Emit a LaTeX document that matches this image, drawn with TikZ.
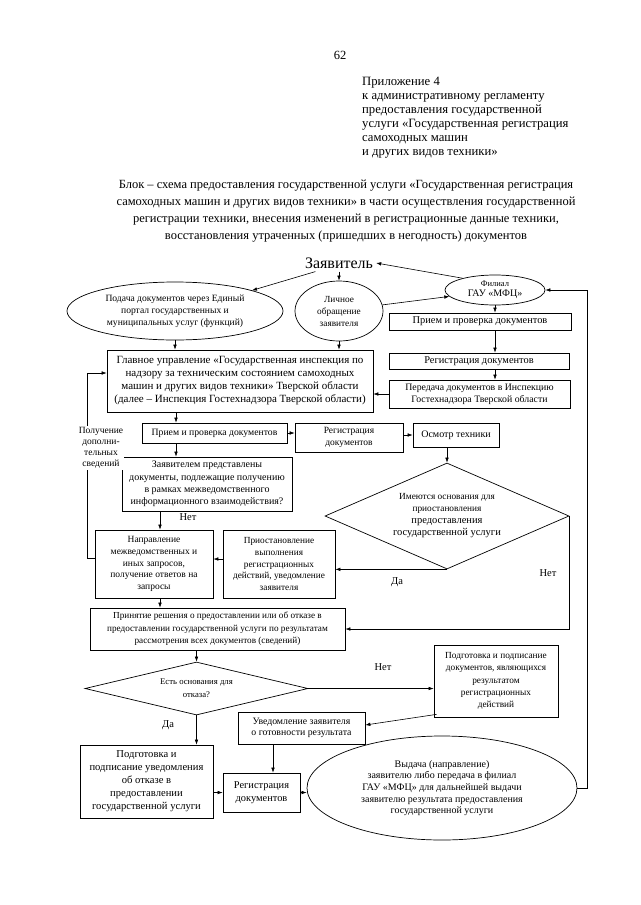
\documentclass[tikz,border=0pt]{standalone}
\usepackage{fontspec}
\setmainfont{Liberation Serif}
\usetikzlibrary{arrows.meta,shapes.geometric,calc}
\begin{document}
\begin{tikzpicture}[x=1pt,y=-1pt,
  every node/.style={inner sep=0pt, align=center},
  bx/.style={draw, line width=0.7pt, rectangle},
  el/.style={draw, line width=0.7pt, ellipse},
  dm/.style={draw, line width=0.7pt, diamond},
  arr/.style={line width=0.6pt, -{Latex[length=5pt,width=3.6pt]}},
  ln/.style={line width=0.6pt},
  lbl/.style={font=\fontsize{10.5}{12}\selectfont}
]
\fill[white] (0,0) rectangle (640,905);
\useasboundingbox (0,0) rectangle (640,905);

% header
\node[font=\fontsize{12.5}{14}\selectfont] (pg) at (340,55) {62};
\node[anchor=west, align=left, font=\fontsize{12.7}{14}\selectfont] (annex) at (362,118)
 {Приложение 4\\к административному регламенту\\предоставления государственной\\услуги «Государственная регистрация\\самоходных машин\\и других видов техники»};
\node[font=\fontsize{12.5}{17}\selectfont] (title) at (346,211.5)
 {Блок – схема предоставления государственной услуги «Государственная регистрация\\самоходных машин и других видов техники» в части осуществления государственной\\регистрации техники, внесения изменений в регистрационные данные техники,\\восстановления утраченных (пришедших в негодность) документов};

% top
\node[font=\fontsize{16}{18}\selectfont, inner sep=3pt] (zayav) at (339,263) {Заявитель};
\node[el, minimum width=216pt, minimum height=58pt, font=\fontsize{9.6}{12}\selectfont] (podacha) at (175,311)
 {Подача документов через Единый\\портал государственных и\\муниципальных услуг (функций)};
\node[el, minimum width=88pt, minimum height=60pt, font=\fontsize{9.3}{12}\selectfont] (lichnoe) at (339,311)
 {Личное\\обращение\\заявителя};
\node[el, minimum width=100pt, minimum height=30pt, font=\fontsize{10}{10.5}\selectfont] (filial) at (495,290)
 {\fontsize{8.5}{10}\selectfont Филиал\\\fontsize{10}{10}\selectfont ГАУ «МФЦ»};

% right column
\node[bx, minimum width=182pt, minimum height=17pt, font=\fontsize{10.4}{12}\selectfont] (r1) at (480,321.5) {Прием и проверка документов};
\node[bx, minimum width=180pt, minimum height=16pt, font=\fontsize{10.4}{12}\selectfont] (r2) at (479,361) {Регистрация документов};
\node[bx, minimum width=181pt, minimum height=28pt, font=\fontsize{9.8}{12}\selectfont] (r3) at (479.5,394)
 {Передача документов в Инспекцию\\Гостехнадзора Тверской области};

% main
\node[bx, minimum width=266pt, minimum height=62pt, font=\fontsize{11}{13}\selectfont] (main) at (240,381)
 {Главное управление «Государственная инспекция по\\надзору за техническим состоянием самоходных\\машин и других видов техники» Тверской области\\(далее – Инспекция Гостехнадзора Тверской области)};

\node[bx, minimum width=145pt, minimum height=20pt, font=\fontsize{9.7}{12}\selectfont] (priem2) at (214.5,433) {Прием и проверка документов};
\node[bx, minimum width=108pt, minimum height=29pt, font=\fontsize{9.5}{12.5}\selectfont] (reg2) at (349,437.5) {Регистрация\\документов};
\node[bx, minimum width=86pt, minimum height=24pt, font=\fontsize{10}{12}\selectfont] (osmotr) at (456,435) {Осмотр техники};

\node[bx, minimum width=170pt, minimum height=54pt, font=\fontsize{10}{12.2}\selectfont] (zayavlen) at (207,484)
 {Заявителем представлены\\документы, подлежащие получению\\в рамках межведомственного\\информационного взаимодействия?};

\node[dm, minimum width=244pt, minimum height=106pt, aspect=2.3, font=\fontsize{10.5}{12}\selectfont] (d1) at (447,516)
 {\fontsize{9.3}{12}\selectfont Имеются основания для\\\fontsize{9.3}{12}\selectfont приостановления\\\fontsize{10.5}{12}\selectfont предоставления\\\fontsize{10.5}{12}\selectfont государственной услуги};

\node[bx, minimum width=118pt, minimum height=68pt, font=\fontsize{9.5}{11.8}\selectfont] (naprav) at (154,564)
 {Направление\\межведомственных и\\иных запросов,\\получение ответов на\\запросы};
\node[bx, minimum width=112pt, minimum height=68pt, font=\fontsize{9.3}{11.8}\selectfont] (priost) at (279,564)
 {Приостановление\\выполнения\\регистрационных\\действий, уведомление\\заявителя};

\node[bx, minimum width=255pt, minimum height=42pt, font=\fontsize{9.2}{12.5}\selectfont] (prinyat) at (217.5,629)
 {Принятие решения о предоставлении или об отказе в\\предоставлении государственной услуги по результатам\\рассмотрения всех документов (сведений)};

\node[dm, minimum width=223pt, minimum height=53pt, aspect=4.2, font=\fontsize{8.7}{13}\selectfont] (d2) at (196.5,688.5)
 {Есть основания для\\отказа?};

\node[bx, minimum width=124pt, minimum height=72pt, font=\fontsize{9.3}{12.2}\selectfont] (podgR) at (496,681)
 {Подготовка и подписание\\документов, являющихся\\результатом\\регистрационных\\действий};
\node[bx, minimum width=127pt, minimum height=32pt, font=\fontsize{9.8}{11.5}\selectfont] (uved) at (301.5,728)
 {Уведомление заявителя\\о готовности результата};
\node[bx, minimum width=77pt, minimum height=39pt, font=\fontsize{10.4}{13}\selectfont] (regB) at (261.5,792.5)
 {Регистрация\\документов};
\node[bx, minimum width=133pt, minimum height=73pt, font=\fontsize{10.6}{13}\selectfont] (podgL) at (146.5,781.5)
 {Подготовка и\\подписание уведомления\\об отказе в\\предоставлении\\государственной услуги};
\node[el, minimum width=270pt, minimum height=104pt, font=\fontsize{10}{11.6}\selectfont] (vydacha) at (442,788)
 {Выдача (направление)\\заявителю либо передача в филиал\\ГАУ «МФЦ» для дальнейшей выдачи\\заявителю результата предоставления\\государственной услуги};

% helper coordinates
\coordinate (colA) at (176,0);
\coordinate (colB) at (160,0);
\coordinate (colC) at (273,0);
\coordinate (colR) at (495,0);
\coordinate (rl) at (587,0);
\coordinate (fb) at (87,373);

% connectors top
\draw[arr] (zayav.200) -- (podacha.15);
\draw[arr] (zayav.south) -- (lichnoe.north);
\draw[arr] (filial.160) -- (zayav.east);
\draw[arr] (lichnoe.8) -- (filial.188);
\draw[arr] (podacha.south) -- (podacha.south |- main.north);
\draw[arr] (lichnoe.south) -- (lichnoe.south |- main.north);
\draw[arr] (filial.south) -- (filial.south |- r1.north);
\draw[arr] (r1.south -| colR) -- (r2.north -| colR);
\draw[arr] (r2.south -| colR) -- (r3.north -| colR);
\draw[arr] (r3.west) -- (r3.west -| main.east);

% middle
\draw[arr] (main.south -| colA) -- (priem2.north -| colA);
\draw[arr] (priem2.east) -- (priem2.east -| reg2.west);
\draw[arr] (osmotr.west -| reg2.east) -- (osmotr.west);
\draw[arr] (osmotr.south -| d1.north) -- (d1.north);
\draw[arr] (priem2.south -| colA) -- (zayavlen.north -| colA);
\draw[arr] (zayavlen.south -| colB) -- (naprav.north -| colB);
\draw[arr] ([yshift=5pt]priost.west) -- ([yshift=5pt]naprav.east);
\draw[arr] (d1.south) -- (d1.south -| priost.east);
\draw[arr] (d1.east) -- (d1.east |- prinyat.east) -- (prinyat.east);
\draw[arr] (naprav.south -| colB) -- (prinyat.north -| colB);

% feedback
\draw[ln] ([yshift=6pt]naprav.west) -| (fb);
\draw[arr] (fb) -- (fb -| main.west);
\node[fill=white, inner sep=1pt, font=\fontsize{9.5}{11}\selectfont] (fbl) at (101,448)
 {Получение\\дополни-\\тельных\\сведений};

% lower
\draw[arr] (prinyat.south -| d2.north) -- (d2.north);
\draw[arr] (d2.east) -- (d2.east -| podgR.west);
\draw[arr] ([xshift=3pt,yshift=3pt]podgR.south west) -- ([yshift=3pt]uved.east);
\draw[arr] (uved.south -| colC) -- (regB.north -| colC);
\draw[arr] (d2.south) -- (d2.south |- podgL.north);
\draw[arr] (regB.west -| podgL.east) -- (regB.west);
\draw[arr] (regB.east) -- (regB.east -| vydacha.west);
\draw[arr] (vydacha.east) -| (rl |- filial.east) -- (filial.east);

% labels
\node[lbl] (l1) at (188,517) {Нет};
\node[lbl] (l2) at (397,582) {Да};
\node[lbl] (l3) at (548,573) {Нет};
\node[lbl] (l4) at (383,667) {Нет};
\node[lbl] (l5) at (168,725) {Да};
\end{tikzpicture}
\end{document}
